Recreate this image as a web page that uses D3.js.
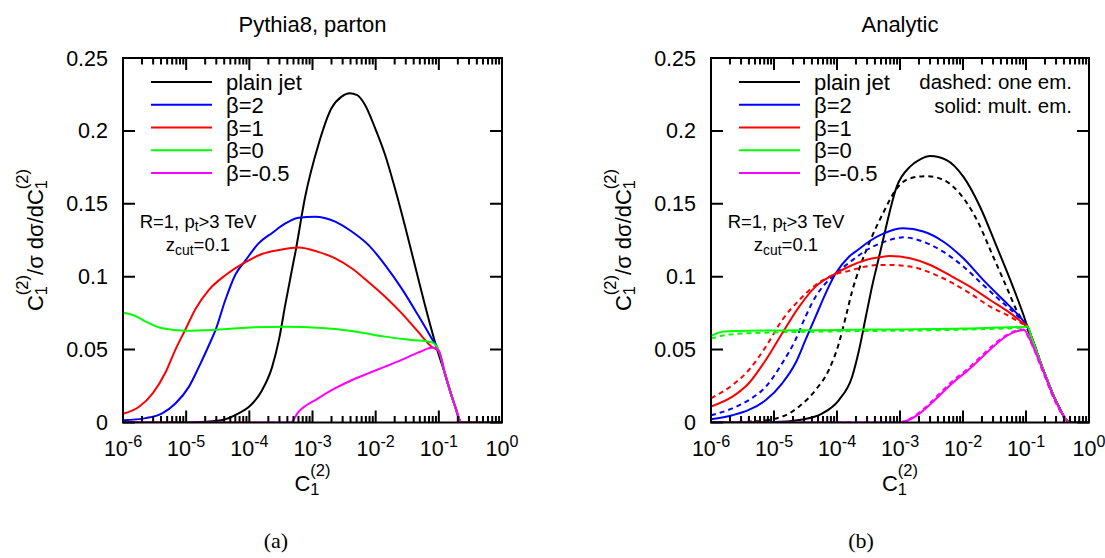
<!DOCTYPE html>
<html>
<head>
<meta charset="utf-8">
<script src="https://cdn.jsdelivr.net/npm/d3@7"></script>
<style>
  body { margin: 0; background: #fff; }
  svg { display: block; }
  text { font-family: "Liberation Sans", Arial, Helvetica, sans-serif; fill: #000; }
</style>
</head>
<body>
<svg id="fig" width="1105" height="558"></svg>
<script>
// every point is [log10(C1), C1/sigma dsigma/dC1]

var yTicks = [0, 0.05, 0.1, 0.15, 0.2, 0.25];
var yTickLabels = ["0", "0.05", "0.1", "0.15", "0.2", "0.25"];
var xDecades = [-6, -5, -4, -3, -2, -1, 0];

var legendNames = ["plain jet", "β=2", "β=1", "β=0", "β=-0.5"];
var seriesColors = ["#000000", "#0000ff", "#ff0000", "#00ff00", "#ff00ff"];

// (a) Pythia8, parton level
var pyTail = [[-0.9, 0.033], [-0.75, 0.012], [-0.64, 0], [0, 0]];
var pyPlain = [[-6, 0], [-5, 0], [-4.7, 0.0005], [-4.43, 0.0017], [-4.17, 0.0063], [-4.0, 0.011],
  [-3.8, 0.022], [-3.64, 0.038], [-3.53, 0.057], [-3.43, 0.081], [-3.32, 0.106], [-3.27, 0.117],
  [-3.12, 0.154], [-2.91, 0.19], [-2.7, 0.2155], [-2.54, 0.2235], [-2.41, 0.2258], [-2.3, 0.2247],
  [-2.17, 0.218], [-2.01, 0.202], [-1.85, 0.1835], [-1.695, 0.1607], [-1.54, 0.1355], [-1.38, 0.108],
  [-1.22, 0.0806], [-1.04, 0.052]].concat(pyTail);
var pyBeta2 = [[-6, 0.0015], [-5.64, 0.003], [-5.38, 0.0063], [-5.17, 0.013], [-4.955, 0.0246],
  [-4.8, 0.038], [-4.64, 0.053], [-4.53, 0.064], [-4.38, 0.084], [-4.22, 0.1015], [-4.06, 0.1112],
  [-3.85, 0.123], [-3.64, 0.130], [-3.43, 0.1365], [-3.22, 0.1405], [-2.96, 0.1412], [-2.64, 0.1378],
  [-2.38, 0.131], [-2.12, 0.122], [-1.85, 0.108], [-1.59, 0.092], [-1.33, 0.0737], [-1.115, 0.0578],
  [-1.0, 0.049]].concat(pyTail);
var pyBeta1 = [[-6, 0.006], [-5.74, 0.011], [-5.53, 0.02], [-5.32, 0.035], [-5.17, 0.05], [-5.01, 0.064],
  [-4.85, 0.078], [-4.64, 0.091], [-4.38, 0.101], [-4.06, 0.11], [-3.8, 0.1156], [-3.53, 0.1183],
  [-3.22, 0.12], [-2.91, 0.117], [-2.64, 0.1126], [-2.38, 0.1058], [-2.12, 0.0966], [-1.85, 0.0863],
  [-1.59, 0.075], [-1.33, 0.0623], [-1.115, 0.052], [-1.0, 0.0488]].concat(pyTail);
var pyBeta0 = [[-6, 0.0755], [-5.8, 0.073], [-5.64, 0.0692], [-5.38, 0.0646], [-5.01, 0.063],
  [-4.59, 0.0635], [-4.06, 0.065], [-3.43, 0.0657], [-2.91, 0.065], [-2.38, 0.0628], [-1.85, 0.0589],
  [-1.43, 0.0566], [-1.115, 0.055], [-1.0, 0.0495]].concat(pyTail);
var pyBetaM05 = [[-6, 0], [-3.35, 0], [-3.22, 0.0074], [-2.91, 0.0166], [-2.64, 0.0235], [-2.38, 0.029],
  [-2.12, 0.0337], [-1.85, 0.0383], [-1.59, 0.0429], [-1.33, 0.0479], [-1.09, 0.0515],
  [-1.0, 0.049]].concat(pyTail);

// (b) analytic: solid = multiple emissions, dashed = one emission
var anTail = [[-0.9, 0.057], [-0.725, 0.036], [-0.51, 0.0135], [-0.3, 0], [0, 0]];
var anPlain = [[-6, 0], [-5, 0.0003], [-4.6, 0.0017], [-4.23, 0.0063], [-3.97, 0.0154], [-3.76, 0.0314],
  [-3.65, 0.0497], [-3.54, 0.073], [-3.44, 0.094], [-3.33, 0.114], [-3.265, 0.126], [-3.05, 0.162],
  [-2.84, 0.1755], [-2.68, 0.1805], [-2.52, 0.1828], [-2.26, 0.18], [-1.995, 0.1686], [-1.73, 0.148],
  [-1.465, 0.1206], [-1.25, 0.0978], [-1.04, 0.0737], [-0.98, 0.066]].concat(anTail);
var anPlainOne = [[-6, 0], [-5.3, 0.0008], [-4.87, 0.004], [-4.6, 0.011], [-4.34, 0.0223], [-4.13, 0.036],
  [-3.97, 0.0543], [-3.86, 0.0726], [-3.76, 0.09], [-3.65, 0.105], [-3.48, 0.124], [-3.27, 0.1435],
  [-3.05, 0.1606], [-2.84, 0.1675], [-2.58, 0.169], [-2.31, 0.1664], [-2.05, 0.157], [-1.78, 0.139],
  [-1.52, 0.1137], [-1.31, 0.093], [-1.15, 0.077], [-1.0, 0.066]].concat(anTail);
var anBeta2 = [[-6, 0.0022], [-5.66, 0.005], [-5.4, 0.0086], [-5.13, 0.0154], [-4.87, 0.0269],
  [-4.66, 0.0406], [-4.5, 0.0566], [-4.34, 0.0726], [-4.18, 0.0886], [-4.02, 0.1023], [-3.81, 0.1137],
  [-3.65, 0.119], [-3.48, 0.1245], [-3.265, 0.1295], [-2.95, 0.1332], [-2.63, 0.131], [-2.31, 0.124],
  [-1.995, 0.1126], [-1.68, 0.0978], [-1.36, 0.084], [-1.15, 0.075], [-1.03, 0.069],
  [-0.98, 0.066]].concat(anTail);
var anBeta2One = [[-6, 0.005], [-5.66, 0.0097], [-5.4, 0.0154], [-5.13, 0.0246], [-4.87, 0.0406],
  [-4.66, 0.0566], [-4.5, 0.0726], [-4.34, 0.0863], [-4.18, 0.0955], [-4.02, 0.102], [-3.81, 0.1095],
  [-3.5, 0.119], [-3.21, 0.1245], [-2.95, 0.127], [-2.63, 0.124], [-2.31, 0.117], [-1.995, 0.107],
  [-1.68, 0.0943], [-1.36, 0.0818], [-1.15, 0.0737], [-1.0, 0.066]].concat(anTail);
var anBeta1 = [[-6, 0.011], [-5.66, 0.0177], [-5.4, 0.0269], [-5.13, 0.0429], [-4.87, 0.0612],
  [-4.6, 0.0795], [-4.34, 0.0932], [-4.07, 0.101], [-3.81, 0.107], [-3.54, 0.1115], [-3.33, 0.1133],
  [-3.16, 0.1142], [-2.84, 0.1126], [-2.52, 0.108], [-2.21, 0.101], [-1.89, 0.0932], [-1.57, 0.084],
  [-1.25, 0.075], [-1.07, 0.069], [-0.98, 0.066]].concat(anTail);
var anBeta1One = [[-6, 0.0166], [-5.66, 0.0257], [-5.4, 0.036], [-5.13, 0.052], [-4.87, 0.0703],
  [-4.6, 0.084], [-4.34, 0.0943], [-4.07, 0.101], [-3.81, 0.104], [-3.54, 0.107], [-3.33, 0.108],
  [-3.16, 0.108], [-2.84, 0.107], [-2.52, 0.1028], [-2.21, 0.0966], [-1.89, 0.0886], [-1.57, 0.0795],
  [-1.25, 0.0726], [-1.07, 0.068], [-0.98, 0.066]].concat(anTail);
var anBeta0 = [[-6, 0.0593], [-5.82, 0.0622], [-5.6, 0.0628], [-4, 0.0635], [-2, 0.0645],
  [-1.02, 0.0657], [-0.98, 0.066]].concat(anTail);
var anBeta0One = [[-6, 0.0575], [-5.8, 0.0598], [-5.5, 0.061], [-5, 0.0618], [-4, 0.0625], [-2, 0.0637],
  [-1.02, 0.0652], [-0.98, 0.0655]].concat(anTail);
var anBetaM05 = [[-6, 0], [-3.03, 0], [-2.03, 0.032], [-1.03, 0.0635], [-0.95, 0.058], [-0.725, 0.035],
  [-0.51, 0.013], [-0.3, 0], [0, 0]];
var anBetaM05One = [[-6, 0], [-3.05, 0], [-2.05, 0.0325], [-1.04, 0.0638], [-0.95, 0.0575],
  [-0.725, 0.034], [-0.51, 0.012], [-0.31, 0], [0, 0]];

var plotTop = 58, plotBottom = 422.5;
var svg = d3.select("#fig");

// text with gnuplot-like sub/superscripts; {sub, sup} given together are stacked
function richText(g, x, y, parts, size, anchor, subShift, supShift) {
  var dn = (subShift == null ? 0.2 : subShift) * size;
  var up = (supShift == null ? 0.44 : supShift) * size;
  var t = g.append("text")
    .attr("x", x).attr("y", y)
    .attr("font-size", size)
    .attr("text-anchor", anchor || "start");
  var shift = 0;
  parts.forEach(function(p) {
    if (typeof p === "string") {
      t.append("tspan").attr("dy", -shift).text(p);
      shift = 0;
      return;
    }
    var small = 0.75 * size, w = 0;
    if (p.sub != null) {
      var sub = t.append("tspan").attr("font-size", small)
        .attr("dy", dn - shift).text(p.sub);
      shift = dn;
      w = sub.node().getComputedTextLength();
    }
    if (p.sup != null) {
      var sup = t.append("tspan").attr("font-size", small)
        .attr("dy", -up - shift).text(p.sup);
      if (w) sup.attr("dx", -w);
      shift = -up;
    }
  });
  return t;
}

function drawPanel(p) {
  var x = d3.scaleLog().domain([1e-6, 1]).range([p.left, p.right]);
  var y = d3.scaleLinear().domain([0, 0.25]).range([plotBottom, plotTop]);
  var g = svg.append("g");

  g.append("clipPath").attr("id", "clip" + p.id)
    .append("rect")
    .attr("x", p.left).attr("y", plotTop)
    .attr("width", p.right - p.left).attr("height", plotBottom - plotTop);

  var line = d3.line()
    .x(function(d) { return x(Math.pow(10, d[0])); })
    .y(function(d) { return y(d[1]); })
    .curve(d3.curveMonotoneX);

  var curves = g.append("g").attr("clip-path", "url(#clip" + p.id + ")");
  p.series.forEach(function(s) {
    curves.append("path")
      .attr("d", line(s.data))
      .attr("fill", "none")
      .attr("stroke", s.color)
      .attr("stroke-width", 2)
      .attr("stroke-dasharray", s.dashed ? "5,4" : null);
  });

  g.append("rect")
    .attr("x", p.left).attr("y", plotTop)
    .attr("width", p.right - p.left).attr("height", plotBottom - plotTop)
    .attr("fill", "none").attr("stroke", "#000").attr("stroke-width", 2);

  // ticks on all four sides, pointing inwards
  var tk = d3.path();
  xDecades.forEach(function(e, i) {
    var vals = [[Math.pow(10, e), 12]];
    if (i < xDecades.length - 1) {
      for (var m = 2; m <= 9; m++) vals.push([m * Math.pow(10, e), 6.5]);
    }
    vals.forEach(function(v) {
      var px = x(v[0]);
      tk.moveTo(px, plotBottom); tk.lineTo(px, plotBottom - v[1]);
      tk.moveTo(px, plotTop); tk.lineTo(px, plotTop + v[1]);
    });
  });
  yTicks.forEach(function(v) {
    var py = y(v);
    tk.moveTo(p.left, py); tk.lineTo(p.left + 12, py);
    tk.moveTo(p.right, py); tk.lineTo(p.right - 12, py);
  });
  g.append("path").attr("d", tk.toString())
    .attr("fill", "none").attr("stroke", "#000").attr("stroke-width", 2);

  // tick labels
  xDecades.forEach(function(e) {
    richText(g, x(Math.pow(10, e)), 456, ["10", { sup: String(e) }], 21.5, "middle");
  });
  yTicks.forEach(function(v, i) {
    g.append("text")
      .attr("x", p.left - 15).attr("y", y(v) + 7.5)
      .attr("font-size", 21.5).attr("text-anchor", "end")
      .text(yTickLabels[i]);
  });

  var cx = (p.left + p.right) / 2;
  g.append("text").attr("x", cx).attr("y", 32)
    .attr("font-size", 22).attr("text-anchor", "middle").text(p.title);

  richText(g, cx, 491, ["C", { sub: "1", sup: "(2)" }], 22, "middle", 0.16, 0.68);

  var yl = g.append("g").attr("transform", "translate(" + (p.left - 80) + ",240) rotate(-90)");
  richText(yl, 0, 0, ["C", { sub: "1", sup: "(2)" }, "/σ dσ/dC", { sub: "1", sup: "(2)" }],
    22, "middle", 0.16, 0.68);

  // key
  legendNames.forEach(function(name, i) {
    var ly = 82 + i * 22.75;
    g.append("line")
      .attr("x1", p.left + 28).attr("x2", p.left + 89)
      .attr("y1", ly).attr("y2", ly)
      .attr("stroke", seriesColors[i]).attr("stroke-width", 2);
    g.append("text").attr("x", p.left + 103).attr("y", ly + 8)
      .attr("font-size", 22).text(name);
  });

  richText(g, p.left + 75, 227.5, ["R=1, p", { sub: "t" }, ">3 TeV"], 18.5, "middle");
  richText(g, p.left + 75, 251, ["z", { sub: "cut" }, "=0.1"], 18.5, "middle");

  if (p.note) {
    p.note.forEach(function(s, i) {
      g.append("text").attr("x", p.right - 17).attr("y", 89 + i * 24)
        .attr("font-size", 20.5).attr("text-anchor", "end").text(s);
    });
  }

  svg.append("text")
    .attr("x", p.subX).attr("y", 548)
    .attr("font-size", 22)
    .style("font-family", '"Liberation Serif", "DejaVu Serif", serif')
    .attr("text-anchor", "middle")
    .text(p.sub);
}

drawPanel({
  id: "a", left: 123, right: 502, title: "Pythia8, parton", sub: "(a)", subX: 276,
  series: [
    { data: pyPlain, color: seriesColors[0] },
    { data: pyBeta2, color: seriesColors[1] },
    { data: pyBeta1, color: seriesColors[2] },
    { data: pyBeta0, color: seriesColors[3] },
    { data: pyBetaM05, color: seriesColors[4] }
  ]
});

drawPanel({
  id: "b", left: 711, right: 1089, title: "Analytic", sub: "(b)", subX: 861,
  note: ["dashed: one em.", "solid: mult. em."],
  series: [
    { data: anPlainOne, color: seriesColors[0], dashed: true },
    { data: anBeta2One, color: seriesColors[1], dashed: true },
    { data: anBeta1One, color: seriesColors[2], dashed: true },
    { data: anBeta0One, color: seriesColors[3], dashed: true },
    { data: anBetaM05One, color: seriesColors[4], dashed: true },
    { data: anPlain, color: seriesColors[0] },
    { data: anBeta2, color: seriesColors[1] },
    { data: anBeta1, color: seriesColors[2] },
    { data: anBeta0, color: seriesColors[3] },
    { data: anBetaM05, color: seriesColors[4] }
  ]
});
</script>
</body>
</html>
